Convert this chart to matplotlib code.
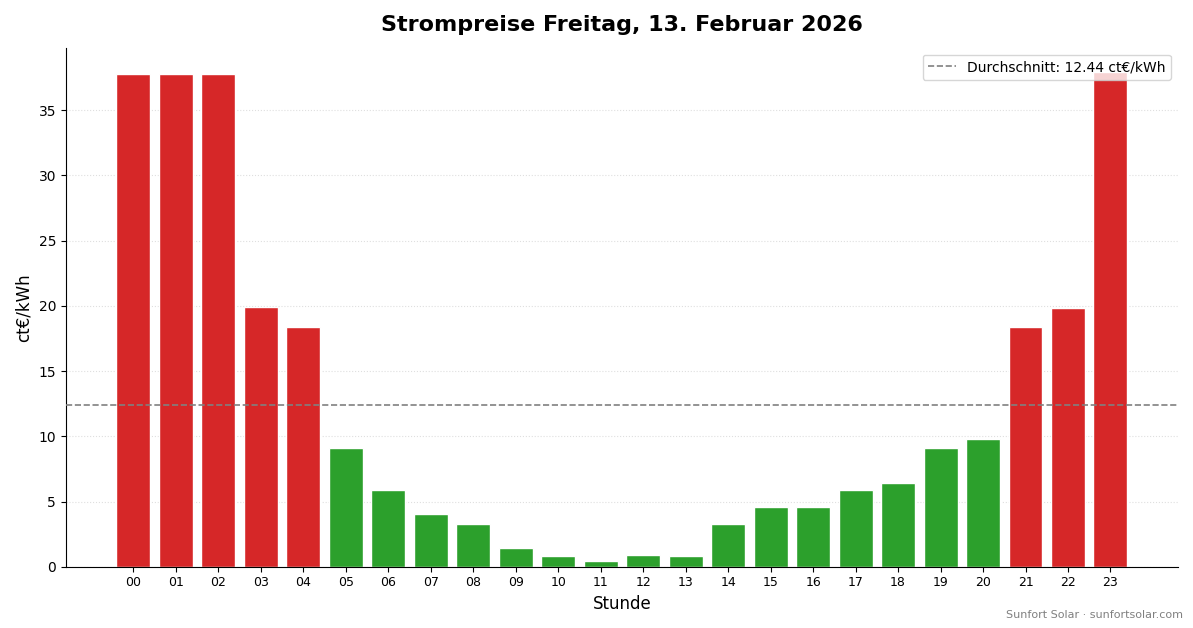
import numpy as np
import matplotlib.pyplot as plt

hours = ['%02d' % h for h in range(24)]
prices = [37.8, 37.8, 37.8, 19.95, 18.4, 9.1, 5.9, 4.06, 3.3, 1.46, 0.84, 0.46,
          0.92, 0.84, 3.3, 4.6, 4.6, 5.9, 6.44, 9.12, 9.8, 18.4, 19.8, 37.9]

avg = np.mean(prices)
colors = ['#d62728' if p > avg else '#2ca02c' for p in prices]

fig, ax = plt.subplots(figsize=(11.93, 6.28), dpi=100)
x = np.arange(len(hours))
ax.bar(x, prices, color=colors, edgecolor='white', linewidth=1, zorder=2)
ax.axhline(avg, color='gray', linestyle='--', linewidth=1.2,
           label='Durchschnitt: %.2f ct€/kWh' % avg, zorder=3)

ax.set_xticks(x)
ax.set_xticklabels(hours, fontsize=9)
ax.set_xlabel('Stunde', fontsize=12)
ax.set_ylabel('ct€/kWh', fontsize=12)
ax.set_title('Strompreise Freitag, 13. Februar 2026', fontsize=16, fontweight='bold', pad=12)
ax.grid(axis='y', linestyle=':', alpha=0.4, zorder=0)
ax.spines['top'].set_visible(False)
ax.spines['right'].set_visible(False)
ax.legend(loc='upper right')
fig.text(0.992, 0.012, 'Sunfort Solar · sunfortsolar.com', ha='right', va='bottom',
         fontsize=8, color='gray')

plt.tight_layout()
plt.savefig('out.png')
